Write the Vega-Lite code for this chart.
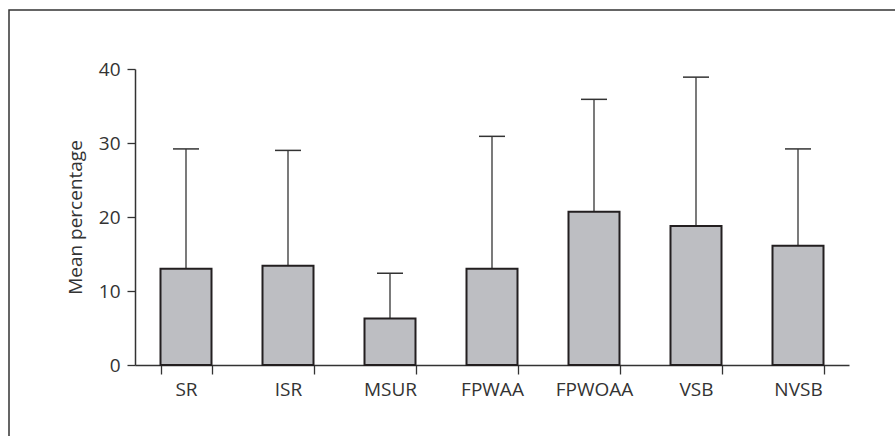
{
  "$schema": "https://vega.github.io/schema/vega-lite/v6.json",
  "width": 886,
  "height": 426,
  "autosize": {"type": "none"},
  "padding": {"left": 9, "top": 10, "right": 0, "bottom": 0},
  "background": "white",
  "config": {
    "view": {"stroke": "#333333", "strokeWidth": 1.5, "strokeDash": [886, 1312, 426]},
    "font": "Open Sans",
    "axis": {"grid": false}
  },
  "data": {
    "values": [
      {"group": "SR", "mean": 13.0, "upper": 29.2},
      {"group": "ISR", "mean": 13.4, "upper": 29.0},
      {"group": "MSUR", "mean": 6.3, "upper": 12.4},
      {"group": "FPWAA", "mean": 13.0, "upper": 30.9},
      {"group": "FPWOAA", "mean": 20.7, "upper": 35.9},
      {"group": "VSB", "mean": 18.8, "upper": 38.9},
      {"group": "NVSB", "mean": 16.1, "upper": 29.2}
    ]
  },
  "encoding": {
    "x": {
      "field": "group",
      "type": "nominal",
      "sort": null,
      "scale": {"range": [126, 840], "paddingInner": 0.5, "paddingOuter": 0.25},
      "axis": {
        "title": null,
        "labelAngle": 0,
        "offset": -71,
        "tickBand": "extent",
        "tickSize": 9,
        "tickColor": "#333333",
        "tickWidth": 1.3,
        "domainColor": "#333333",
        "domainWidth": 1.5,
        "labelFont": "Open Sans",
        "labelFontSize": 19,
        "labelColor": "#333333",
        "labelPadding": 6
      }
    }
  },
  "layer": [
    {
      "mark": {"type": "rule", "color": "#333333", "strokeWidth": 1.3},
      "encoding": {
        "y": {"field": "mean", "type": "quantitative"},
        "y2": {"field": "upper"}
      }
    },
    {
      "mark": {"type": "tick", "color": "#333333", "size": 26, "thickness": 1.5, "opacity": 1},
      "encoding": {
        "y": {"field": "upper", "type": "quantitative"}
      }
    },
    {
      "mark": {"type": "bar", "fill": "#bdbec2", "stroke": "#231f20", "strokeWidth": 2, "width": 51},
      "encoding": {
        "y": {
          "field": "mean",
          "type": "quantitative",
          "scale": {"domain": [0, 40], "range": [355, 59], "nice": false, "zero": true},
          "axis": {
            "title": "Mean percentage",
            "titleFont": "Open Sans",
            "titleFontSize": 19,
            "titleFontWeight": "normal",
            "titleColor": "#333333",
            "titlePadding": 13,
            "values": [0, 10, 20, 30, 40],
            "offset": -126,
            "tickSize": 8,
            "tickColor": "#333333",
            "tickWidth": 1.3,
            "domainColor": "#333333",
            "domainWidth": 1.5,
            "labelFont": "Open Sans",
            "labelFontSize": 19,
            "labelColor": "#333333",
            "labelPadding": 7
          }
        }
      }
    }
  ]
}
